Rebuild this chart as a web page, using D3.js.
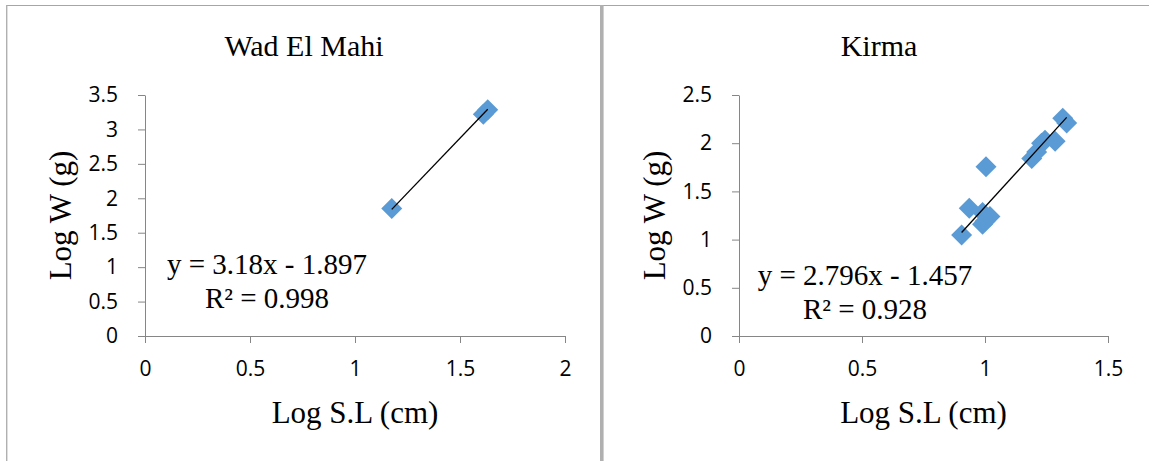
<!DOCTYPE html>
<html>
<head>
<meta charset="utf-8">
<script src="https://cdn.jsdelivr.net/npm/d3@7"></script>
<style>
  html, body { margin: 0; padding: 0; background: #fff; }
  svg { display: block; }
</style>
</head>
<body>
<div id="chart"></div>
<script>
// Log W vs Log S.L — two scatter panels with linear trend lines
var SERIF = "'Liberation Serif', 'Times New Roman', serif";
var SANS = "'Open Sans', Lato, sans-serif";
var BLUE = "#5b9bd5";
var AXIS = "#868686";

// Wad El Mahi
var WAD_X = [1.175, 1.611, 1.632];
var WAD_Y = [1.85, 3.22, 3.285];
var WAD_XTICKS = [0, 0.5, 1, 1.5, 2];
var WAD_YTICKS = [0, 0.5, 1, 1.5, 2, 2.5, 3, 3.5];
var WAD_FIT = [3.18, -1.897];

// Kirma
var KIRMA_X = [0.905, 0.936, 1.004, 0.99, 1.02, 1.0, 0.99, 1.19, 1.21, 1.23, 1.244, 1.285, 1.316, 1.332];
var KIRMA_Y = [1.048, 1.325, 1.756, 1.28, 1.24, 1.19, 1.16, 1.84, 1.91, 2.0, 2.03, 2.02, 2.26, 2.21];
var KIRMA_XTICKS = [0, 0.5, 1, 1.5];
var KIRMA_YTICKS = [0, 0.5, 1, 1.5, 2, 2.5];
var KIRMA_FIT = [2.796, -1.457];

var W = 1149, H = 461;

var svg = d3.select("#chart").append("svg")
  .attr("width", W).attr("height", H)
  .style("background", "#fff");

// Panel frames
svg.append("line").attr("x1", 6).attr("x2", W).attr("y1", 5.5).attr("y2", 5.5)
  .attr("stroke", "#a6a6a6").attr("stroke-width", 1.2);
svg.append("line").attr("x1", 6.7).attr("x2", 6.7).attr("y1", 5).attr("y2", H)
  .attr("stroke", "#b0b0b0").attr("stroke-width", 1.4);
svg.append("line").attr("x1", 601.8).attr("x2", 601.8).attr("y1", 5).attr("y2", H)
  .attr("stroke", "#b0b0b0").attr("stroke-width", 3.6);

function diamond(r) {
  return "M0," + (-r) + "L" + r + ",0L0," + r + "L" + (-r) + ",0Z";
}

function panel(o) {
  var x = d3.scaleLinear().domain(o.xDomain).range([o.left, o.right]);
  var y = d3.scaleLinear().domain(o.yDomain).range([336, 95]);
  var g = svg.append("g");

  // Title
  g.append("text").attr("x", o.titleX).attr("y", 56)
    .attr("text-anchor", "middle").attr("font-family", SERIF)
    .attr("font-size", "30px").attr("fill", "#000").text(o.title);

  // Y axis
  var ya = g.append("g").attr("transform", "translate(" + o.left + ",0)")
    .call(d3.axisLeft(y).tickValues(o.yTicks).tickSize(7).tickSizeOuter(0)
      .tickPadding(20).tickFormat(function (d) { return String(d); }));
  // X axis
  var xa = g.append("g").attr("transform", "translate(0,336)")
    .call(d3.axisBottom(x).tickValues(o.xTicks).tickSize(7).tickSizeOuter(0)
      .tickPadding(18).tickFormat(function (d) { return String(d); }));

  [ya, xa].forEach(function (a) {
    a.attr("font-size", null).attr("font-family", null);
    a.select(".domain").attr("stroke", AXIS).attr("stroke-width", 1);
    a.selectAll(".tick line").attr("stroke", AXIS).attr("stroke-width", 1);
    a.selectAll(".tick text")
      .style("font-family", SANS).style("font-size", "21px")
      .attr("fill", "#000");
  });

  // Axis titles
  g.append("text").attr("x", (o.left + o.right) / 2).attr("y", 423)
    .attr("text-anchor", "middle").attr("font-family", SERIF)
    .attr("font-size", "31px").attr("fill", "#000").text("Log S.L (cm)");
  g.append("text")
    .attr("transform", "translate(" + (o.left - 74) + ",215.5) rotate(-90)")
    .attr("text-anchor", "middle").attr("font-family", SERIF)
    .attr("font-size", "31px").attr("fill", "#000").text("Log W (g)");

  // Points
  var pts = o.xs.map(function (v, i) { return [v, o.ys[i]]; });
  g.selectAll("path.pt").data(pts).enter().append("path")
    .attr("class", "pt")
    .attr("d", diamond(10.5))
    .attr("transform", function (d) { return "translate(" + x(d[0]) + "," + y(d[1]) + ")"; })
    .attr("fill", BLUE);

  // Trend line over the data's x range
  var ext = d3.extent(o.xs);
  var fit = function (v) { return o.fit[0] * v + o.fit[1]; };
  g.append("line")
    .attr("x1", x(ext[0])).attr("y1", y(fit(ext[0])))
    .attr("x2", x(ext[1])).attr("y2", y(fit(ext[1])))
    .attr("stroke", "#000").attr("stroke-width", 1.3);

  // Equation label
  var sign = o.fit[1] < 0 ? " - " : " + ";
  g.append("text").attr("x", o.eqX).attr("y", o.eqY)
    .attr("text-anchor", "middle").attr("font-family", SERIF)
    .attr("font-size", "29px").attr("fill", "#000")
    .text("y = " + o.fit[0] + "x" + sign + Math.abs(o.fit[1]));
  g.append("text").attr("x", o.eqX).attr("y", o.eqY + 34)
    .attr("text-anchor", "middle").attr("font-family", SERIF)
    .attr("font-size", "29px").attr("fill", "#000")
    .text("R\u00b2 = " + o.r2);
}

panel({
  title: "Wad El Mahi", titleX: 304,
  left: 145, right: 565,
  xDomain: [0, 2], yDomain: [0, 3.5],
  xTicks: WAD_XTICKS, yTicks: WAD_YTICKS,
  xs: WAD_X, ys: WAD_Y, fit: WAD_FIT, r2: "0.998",
  eqX: 267, eqY: 274
});

panel({
  title: "Kirma", titleX: 879,
  left: 739, right: 1108,
  xDomain: [0, 1.5], yDomain: [0, 2.5],
  xTicks: KIRMA_XTICKS, yTicks: KIRMA_YTICKS,
  xs: KIRMA_X, ys: KIRMA_Y, fit: KIRMA_FIT, r2: "0.928",
  eqX: 865, eqY: 285
});
</script>
</body>
</html>
